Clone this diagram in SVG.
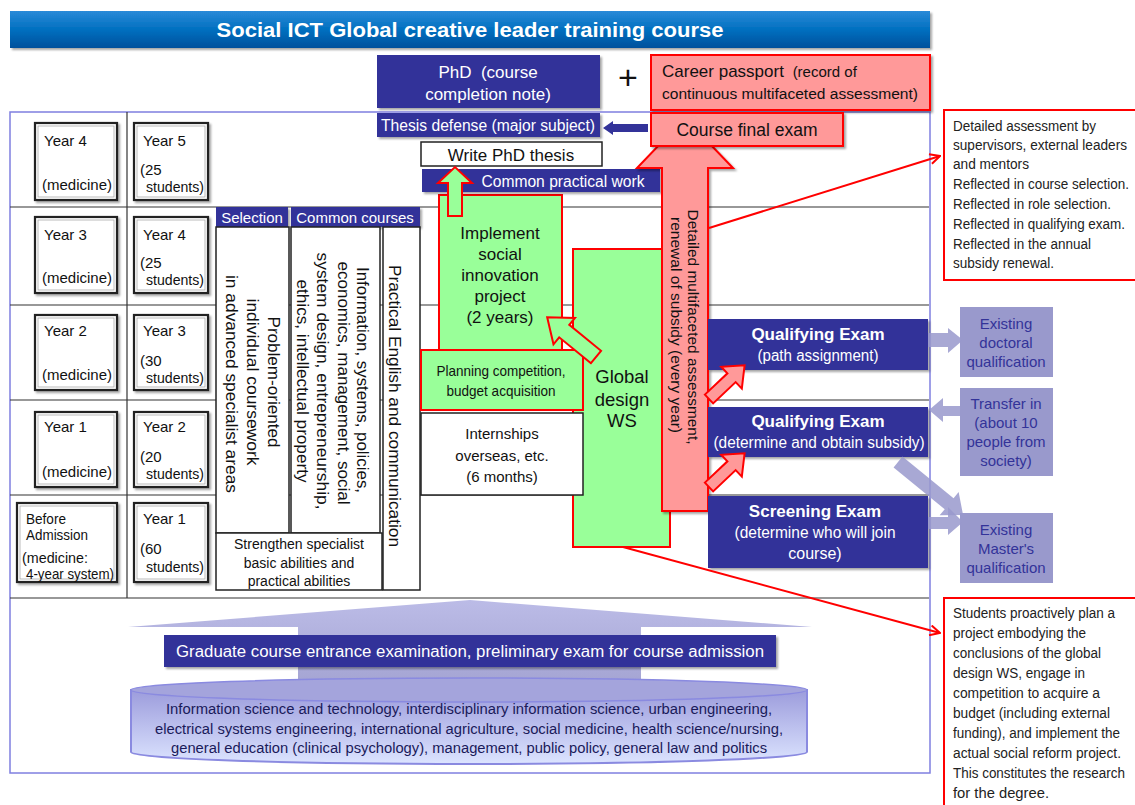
<svg xmlns="http://www.w3.org/2000/svg" width="1135" height="805" viewBox="0 0 1135 805">
<defs>
<linearGradient id="gTitle" x1="0" y1="0" x2="0" y2="1">
<stop offset="0" stop-color="#2a8ad8"/><stop offset="0.5" stop-color="#0070c0"/><stop offset="1" stop-color="#00509c"/>
</linearGradient>
<linearGradient id="gCyl" x1="0" y1="0" x2="0" y2="1">
<stop offset="0" stop-color="#9c9cdc"/><stop offset="1" stop-color="#dce4ff"/>
</linearGradient>
<linearGradient id="gBig" x1="0" y1="0" x2="0" y2="1">
<stop offset="0" stop-color="#b4b4e4"/><stop offset="1" stop-color="#9898cc"/>
</linearGradient>
<filter id="sh" x="-10%" y="-10%" width="130%" height="130%">
<feDropShadow dx="2" dy="2" stdDeviation="1" flood-color="#000" flood-opacity="0.35"/>
</filter>
<marker id="ah" viewBox="0 0 12 12" refX="11" refY="6" markerWidth="12" markerHeight="12" orient="auto" markerUnits="userSpaceOnUse">
<path d="M1,1 L11,6 L1,11" fill="none" stroke="#ff0000" stroke-width="2"/>
</marker>
<style>
text{font-family:"Liberation Sans",Arial,sans-serif;}
.navy{fill:#333399;filter:url(#sh);}
.wt{fill:#ffffff;}
.c{text-anchor:middle;}
.bk{fill:#111111;}
.yb{fill:#ffffff;stroke:#222222;stroke-width:2.2;filter:url(#sh);}
.yi{fill:none;stroke:#aaaaaa;stroke-width:0.8;}
.col{fill:#ffffff;stroke:#222222;stroke-width:1.5;}
.grn{fill:#99ff99;stroke:#ff0000;stroke-width:2;}
.pink{fill:#ff9999;stroke:#ff0000;stroke-width:2;}
.lp{fill:#9999cc;}
.lpt{fill:#333399;font-size:15px;text-anchor:middle;}
.pa{fill:#9999cc;opacity:0.85;}
.grid{stroke:#333333;stroke-width:1.2;}
.note{fill:#ffffff;stroke:#ff0000;stroke-width:2;}
.nt{font-size:14px;fill:#222222;}
.red{stroke:#ff0000;stroke-width:2;fill:none;}
.y{font-size:15px;fill:#111111;}
.v{font-size:16px;fill:#111111;text-anchor:middle;}
</style>
</defs>

<!-- title -->
<g id="title">
<rect x="10" y="11" width="920" height="37" fill="url(#gTitle)" filter="url(#sh)"/>
<text x="470" y="37" class="wt c" font-size="19.5" font-weight="bold" textLength="507" lengthAdjust="spacingAndGlyphs">Social ICT Global creative leader training course</text>
</g>

<!-- frame and grid -->
<g id="frame">
<rect x="10" y="112" width="920" height="661" fill="none" stroke="#7f7fe0" stroke-width="1.5"/>
<line class="grid" x1="10" y1="207" x2="929" y2="207"/>
<line class="grid" x1="10" y1="305" x2="929" y2="305"/>
<line class="grid" x1="10" y1="400" x2="929" y2="400"/>
<line class="grid" x1="10" y1="495" x2="929" y2="495"/>
<line class="grid" x1="10" y1="598" x2="929" y2="598"/>
<line class="grid" x1="127" y1="112" x2="127" y2="598"/>
</g>

<!-- year boxes -->
<g id="year-boxes">
<g id="y-l1"><rect class="yb" x="35" y="123" width="82" height="77"/><rect class="yi" x="38" y="126" width="76" height="71"/>
<text class="y" x="44" y="146">Year 4</text><text class="y" x="42" y="190" textLength="70" lengthAdjust="spacingAndGlyphs">(medicine)</text></g>
<g id="y-r1"><rect class="yb" x="134" y="123" width="74" height="77"/><rect class="yi" x="137" y="126" width="68" height="71"/>
<text class="y" x="143" y="146">Year 5</text><text class="y" x="140" y="175">(25</text><text class="y" x="146" y="192" textLength="58" lengthAdjust="spacingAndGlyphs">students)</text></g>

<g id="y-l2"><rect class="yb" x="35" y="217" width="82" height="76"/><rect class="yi" x="38" y="220" width="76" height="70"/>
<text class="y" x="44" y="240">Year 3</text><text class="y" x="42" y="283" textLength="70" lengthAdjust="spacingAndGlyphs">(medicine)</text></g>
<g id="y-r2"><rect class="yb" x="134" y="217" width="74" height="76"/><rect class="yi" x="137" y="220" width="68" height="70"/>
<text class="y" x="143" y="240">Year 4</text><text class="y" x="140" y="268">(25</text><text class="y" x="146" y="285" textLength="58" lengthAdjust="spacingAndGlyphs">students)</text></g>

<g id="y-l3"><rect class="yb" x="35" y="315" width="82" height="75"/><rect class="yi" x="38" y="318" width="76" height="69"/>
<text class="y" x="44" y="336">Year 2</text><text class="y" x="42" y="380" textLength="70" lengthAdjust="spacingAndGlyphs">(medicine)</text></g>
<g id="y-r3"><rect class="yb" x="134" y="315" width="74" height="75"/><rect class="yi" x="137" y="318" width="68" height="69"/>
<text class="y" x="143" y="336">Year 3</text><text class="y" x="140" y="366">(30</text><text class="y" x="146" y="383" textLength="58" lengthAdjust="spacingAndGlyphs">students)</text></g>

<g id="y-l4"><rect class="yb" x="35" y="412" width="82" height="75"/><rect class="yi" x="38" y="415" width="76" height="69"/>
<text class="y" x="44" y="432">Year 1</text><text class="y" x="42" y="477" textLength="70" lengthAdjust="spacingAndGlyphs">(medicine)</text></g>
<g id="y-r4"><rect class="yb" x="134" y="412" width="74" height="75"/><rect class="yi" x="137" y="415" width="68" height="69"/>
<text class="y" x="143" y="432">Year 2</text><text class="y" x="140" y="462">(20</text><text class="y" x="146" y="479" textLength="58" lengthAdjust="spacingAndGlyphs">students)</text></g>

<g id="y-l5"><rect class="yb" x="17" y="503" width="100" height="79"/><rect class="yi" x="20" y="506" width="94" height="73"/>
<text class="y" x="26" y="524" textLength="40" lengthAdjust="spacingAndGlyphs">Before</text><text class="y" x="26" y="540" textLength="62" lengthAdjust="spacingAndGlyphs">Admission</text>
<text class="y" x="22" y="563" textLength="66" lengthAdjust="spacingAndGlyphs">(medicine:</text><text class="y" x="26" y="579" textLength="88" lengthAdjust="spacingAndGlyphs">4-year system)</text></g>
<g id="y-r5"><rect class="yb" x="134" y="503" width="74" height="79"/><rect class="yi" x="137" y="506" width="68" height="73"/>
<text class="y" x="143" y="524">Year 1</text><text class="y" x="140" y="554">(60</text><text class="y" x="146" y="572" textLength="58" lengthAdjust="spacingAndGlyphs">students)</text></g>
</g>

<!-- courses -->
<g id="courses">
<g id="selection-head"><rect class="navy" x="216" y="207" width="72" height="20"/>
<text class="wt c" x="252" y="223" font-size="15">Selection</text></g>
<g id="common-head"><rect class="navy" x="291" y="207" width="129" height="20"/>
<text class="wt c" x="355" y="223" font-size="15">Common courses</text></g>
<g id="col-problem"><rect class="col" x="216" y="227" width="73" height="306"/>
<text class="v" transform="translate(268,382) rotate(90)" textLength="131" lengthAdjust="spacingAndGlyphs">Problem-oriented</text>
<text class="v" transform="translate(247,382) rotate(90)" textLength="167" lengthAdjust="spacingAndGlyphs">individual coursework</text>
<text class="v" transform="translate(226,384) rotate(90)" textLength="218" lengthAdjust="spacingAndGlyphs">in advanced specialist areas</text></g>
<g id="col-info"><rect class="col" x="291" y="227" width="89" height="306"/>
<text class="v" transform="translate(357,380) rotate(90)" textLength="226" lengthAdjust="spacingAndGlyphs">Information, systems, policies,</text>
<text class="v" transform="translate(338,383) rotate(90)" textLength="243" lengthAdjust="spacingAndGlyphs">economics, management, social</text>
<text class="v" transform="translate(317,381) rotate(90)" textLength="257" lengthAdjust="spacingAndGlyphs">system design, entrepreneurship,</text>
<text class="v" transform="translate(297,381) rotate(90)" textLength="203" lengthAdjust="spacingAndGlyphs">ethics, intellectual property</text></g>
<g id="col-english"><rect class="col" x="383" y="227" width="37" height="363"/>
<text class="v" transform="translate(389,406) rotate(90)" textLength="282" lengthAdjust="spacingAndGlyphs">Practical English and communication</text></g>
<g id="strengthen"><rect class="col" x="216" y="533" width="166" height="57"/>
<text class="c bk" x="299" y="549" font-size="14">Strengthen specialist</text>
<text class="c bk" x="299" y="568" font-size="14">basic abilities and</text>
<text class="c bk" x="299" y="586" font-size="14">practical abilities</text></g>
</g>

<!-- global design WS -->
<g id="global-ws"><rect class="grn" x="573" y="249" width="97" height="298"/>
<text class="c bk" x="622" y="383" font-size="18.5">Global</text>
<text class="c bk" x="622" y="406" font-size="18.5">design</text>
<text class="c bk" x="622" y="427" font-size="18.5">WS</text></g>

<!-- implement -->
<g id="implement"><rect class="grn" x="439" y="195" width="123" height="157"/>
<text class="c bk" x="500" y="239" font-size="17">Implement</text>
<text class="c bk" x="500" y="260" font-size="17">social</text>
<text class="c bk" x="500" y="281" font-size="17">innovation</text>
<text class="c bk" x="500" y="302" font-size="17">project</text>
<text class="c bk" x="500" y="323" font-size="17">(2 years)</text></g>

<!-- planning -->
<g id="planning"><rect class="grn" x="421" y="350" width="162" height="60"/>
<text class="c bk" x="501" y="376" font-size="14.5" textLength="129" lengthAdjust="spacingAndGlyphs">Planning competition,</text>
<text class="c bk" x="501" y="396" font-size="14.5" textLength="109" lengthAdjust="spacingAndGlyphs">budget acquisition</text></g>

<!-- internships -->
<g id="internships"><rect fill="#ffffff" stroke="#222" stroke-width="1.5" x="421" y="413" width="162" height="82"/>
<text class="c bk" x="502" y="439" font-size="15">Internships</text>
<text class="c bk" x="502" y="461" font-size="15">overseas, etc.</text>
<text class="c bk" x="502" y="482" font-size="15">(6 months)</text></g>

<!-- top area -->
<g id="phd"><rect class="navy" x="377" y="55" width="223" height="53"/>
<text class="wt c" x="488" y="78" font-size="17" xml:space="preserve">PhD  (course</text>
<text class="wt c" x="488" y="100" font-size="17">completion note)</text></g>
<g id="plus"><text x="628" y="89" class="c bk" font-size="34">+</text></g>
<g id="career"><rect class="pink" x="651" y="55" width="279" height="55" filter="url(#sh)"/>
<text class="bk" x="662" y="77" font-size="17">Career passport <tspan font-size="15" dx="4">(record of</tspan></text>
<text class="bk" x="662" y="99" font-size="15.5" textLength="256" lengthAdjust="spacingAndGlyphs">continuous multifaceted assessment)</text></g>
<g id="thesis-defense"><rect class="navy" x="377" y="113" width="223" height="24"/>
<text class="wt c" x="488" y="131" font-size="16" textLength="214" lengthAdjust="spacingAndGlyphs">Thesis defense (major subject)</text></g>
<g id="write-thesis"><rect fill="#ffffff" stroke="#222" stroke-width="1.5" x="421" y="142" width="181" height="24"/>
<text class="c bk" x="511" y="161" font-size="17">Write PhD thesis</text></g>
<g id="common-practical"><rect class="navy" x="422" y="169" width="238" height="23"/>
<text class="wt c" x="563" y="187" font-size="16" textLength="163" lengthAdjust="spacingAndGlyphs">Common practical work</text></g>

<!-- big pink arrow -->
<g id="assessment-arrow">
<polygon class="pink" points="662,511 662,168 637,168 685,118 733,168 708,168 708,511" filter="url(#sh)"/>
<text class="bk c" font-size="15" transform="translate(688,327) rotate(90)" textLength="235" lengthAdjust="spacingAndGlyphs">Detailed multifaceted assessment,</text>
<text class="bk c" font-size="15" transform="translate(671,325) rotate(90)" textLength="216" lengthAdjust="spacingAndGlyphs">renewal of subsidy (every year)</text>
</g>

<g id="course-final"><rect class="pink" x="651" y="113" width="192" height="33" filter="url(#sh)"/>
<text class="c bk" x="747" y="136" font-size="17.5">Course final exam</text></g>

<!-- exams -->
<g id="qe1"><rect class="navy" x="708" y="319" width="220" height="51"/>
<text class="wt c" x="818" y="340" font-size="17" font-weight="bold">Qualifying Exam</text>
<text class="wt c" x="818" y="361" font-size="16" textLength="121" lengthAdjust="spacingAndGlyphs">(path assignment)</text></g>
<g id="qe2"><rect class="navy" x="708" y="407" width="220" height="50"/>
<text class="wt c" x="818" y="427" font-size="17" font-weight="bold">Qualifying Exam</text>
<text class="wt c" x="819" y="448" font-size="16" textLength="211" lengthAdjust="spacingAndGlyphs">(determine and obtain subsidy)</text></g>
<g id="screening"><rect class="navy" x="708" y="496" width="220" height="72"/>
<text class="wt c" x="815" y="517" font-size="17" font-weight="bold">Screening Exam</text>
<text class="wt c" x="815" y="538" font-size="16" textLength="161" lengthAdjust="spacingAndGlyphs">(determine who will join</text>
<text class="wt c" x="815" y="559" font-size="16">course)</text></g>

<!-- right qualification boxes -->
<g id="exist-doc"><rect class="lp" x="960" y="307" width="93" height="70"/>
<text class="lpt" x="1006" y="329">Existing</text><text class="lpt" x="1006" y="348">doctoral</text><text class="lpt" x="1006" y="367">qualification</text></g>
<g id="transfer"><rect class="lp" x="960" y="388" width="93" height="88"/>
<text class="lpt" x="1006" y="409">Transfer in</text><text class="lpt" x="1006" y="428">(about 10</text><text class="lpt" x="1006" y="447">people from</text><text class="lpt" x="1006" y="466">society)</text></g>
<g id="exist-master"><rect class="lp" x="960" y="513" width="93" height="70"/>
<text class="lpt" x="1006" y="535">Existing</text><text class="lpt" x="1006" y="554">Master's</text><text class="lpt" x="1006" y="573">qualification</text></g>

<!-- notes -->
<g id="note1"><rect class="note" x="944" y="110" width="200" height="170"/>
<text class="nt" x="953" y="131" textLength="143" lengthAdjust="spacingAndGlyphs">Detailed assessment by</text>
<text class="nt" x="953" y="150" textLength="174" lengthAdjust="spacingAndGlyphs">supervisors, external leaders</text>
<text class="nt" x="953" y="169" textLength="76" lengthAdjust="spacingAndGlyphs">and mentors</text>
<text class="nt" x="953" y="189" textLength="176" lengthAdjust="spacingAndGlyphs">Reflected in course selection.</text>
<text class="nt" x="953" y="209" textLength="158" lengthAdjust="spacingAndGlyphs">Reflected in role selection.</text>
<text class="nt" x="953" y="229" textLength="172" lengthAdjust="spacingAndGlyphs">Reflected in qualifying exam.</text>
<text class="nt" x="953" y="249" textLength="138" lengthAdjust="spacingAndGlyphs">Reflected in the annual</text>
<text class="nt" x="953" y="268" textLength="101" lengthAdjust="spacingAndGlyphs">subsidy renewal.</text></g>
<g id="note2"><rect class="note" x="944" y="598" width="200" height="220"/>
<text class="nt" x="953" y="618" textLength="162" lengthAdjust="spacingAndGlyphs">Students proactively plan a</text>
<text class="nt" x="953" y="638" textLength="133" lengthAdjust="spacingAndGlyphs">project embodying the</text>
<text class="nt" x="953" y="658" textLength="148" lengthAdjust="spacingAndGlyphs">conclusions of the global</text>
<text class="nt" x="953" y="678" textLength="132" lengthAdjust="spacingAndGlyphs">design WS, engage in</text>
<text class="nt" x="953" y="698" textLength="147" lengthAdjust="spacingAndGlyphs">competition to acquire a</text>
<text class="nt" x="953" y="718" textLength="157" lengthAdjust="spacingAndGlyphs">budget (including external</text>
<text class="nt" x="953" y="738" textLength="167" lengthAdjust="spacingAndGlyphs">funding), and implement the</text>
<text class="nt" x="953" y="758" textLength="168" lengthAdjust="spacingAndGlyphs">actual social reform project.</text>
<text class="nt" x="953" y="778" textLength="172" lengthAdjust="spacingAndGlyphs">This constitutes the research</text>
<text class="nt" x="953" y="798" textLength="96" lengthAdjust="spacingAndGlyphs">for the degree.</text></g>

<!-- bottom -->
<g id="entrance">
<polygon points="470,600 812,627 641,627 641,692 298,692 298,627 128,627" fill="url(#gBig)" opacity="0.9"/>
<g id="grad-exam"><rect class="navy" x="164" y="635" width="612" height="32"/>
<text class="wt c" x="470" y="657" font-size="16" textLength="588" lengthAdjust="spacingAndGlyphs">Graduate course entrance examination, preliminary exam for course admission</text></g>
<g id="departments">
<path d="M131,690 L131,752 A338,12 0 0 0 807,752 L807,690 Z" fill="url(#gCyl)" stroke="#8a8ae0" stroke-width="2"/>
<ellipse cx="469" cy="690" rx="338" ry="12" fill="#a4a4dc" stroke="#8a8ae0" stroke-width="1.5"/>
<text class="c" x="469" y="714" font-size="14" fill="#1a1a5a" textLength="606" lengthAdjust="spacingAndGlyphs">Information science and technology, interdisciplinary information science, urban engineering,</text>
<text class="c" x="469" y="734" font-size="14" fill="#1a1a5a" textLength="628" lengthAdjust="spacingAndGlyphs">electrical systems engineering, international agriculture, social medicine, health science/nursing,</text>
<text class="c" x="469" y="753" font-size="14" fill="#1a1a5a" textLength="596" lengthAdjust="spacingAndGlyphs">general education (clinical psychology), management, public policy, general law and politics</text>
</g>
</g>

<!-- connectors -->
<g id="connectors">
<polygon id="a-final-defense" points="648,124 613,124 613,121 603,128 613,135 613,132 648,132" fill="#333399"/>
<polygon id="a-impl-write" class="grn" points="448,216 448,183 438,183 455,167 472,183 462,183 462,216"/>
<polygon id="a-ws-impl" class="grn" transform="translate(596,357) rotate(219.2)" points="0,-8 41,-8 41,-17 63,0 41,17 41,8 0,8"/>
<polygon id="a-qe2-qe1" class="pink" transform="translate(709,399) rotate(-43.4)" points="0,-6 31,-6 31,-15 49,0 31,15 31,6 0,6"/>
<polygon id="a-scr-qe2" class="pink" transform="translate(709,487) rotate(-43.4)" points="0,-6 31,-6 31,-15 49,0 31,15 31,6 0,6"/>
<polygon id="a-qe1-doc" class="pa" points="928,333 948,333 948,328 963,340 948,353 948,347 928,347"/>
<polygon id="a-trans-qe2" class="pa" points="960,406 943,406 943,398 929,410 943,422 943,416 960,416"/>
<polygon id="a-scr-mas" class="pa" points="928,517 948,517 948,507 963,522 948,535 948,529 928,529"/>
<polygon id="a-qe2-mas" class="pa" transform="translate(898,462) rotate(39.2)" points="0,-7 66,-7 66,-15 84,0 66,15 66,7 0,7"/>
<line id="l-note1" class="red" x1="709" y1="228" x2="940" y2="156" marker-end="url(#ah)"/>
<line id="l-note2" class="red" x1="623" y1="547" x2="940" y2="633" marker-end="url(#ah)"/>
</g>
</svg>
